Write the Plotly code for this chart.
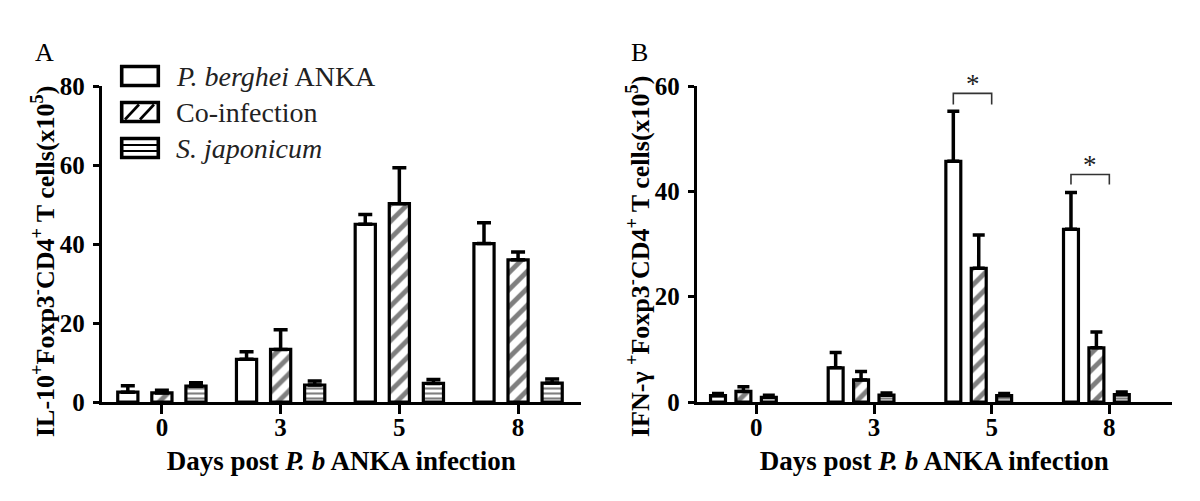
import plotly.graph_objects as go

# ---------------- data ----------------
days = ["0", "3", "5", "8"]
group_names = ["<i>P. berghei</i> ANKA", "Co-infection", "<i>S. japonicum</i>"]

# Panel A: IL-10+ Foxp3- CD4+ T cells (x10^5), mean and SEM (upper only)
il10_pb = [2.5, 10.8, 45.0, 40.1]
il10_pb_err = [1.6, 1.9, 2.5, 5.3]
il10_co = [2.3, 13.3, 50.2, 36.0]
il10_co_err = [0.7, 5.0, 9.1, 2.0]
il10_sj = [4.0, 4.3, 4.7, 4.8]
il10_sj_err = [0.9, 1.0, 1.0, 1.0]

# Panel B: IFN-gamma+ Foxp3- CD4+ T cells (x10^5)
ifng_pb = [1.2, 6.5, 45.7, 32.8]
ifng_pb_err = [0.4, 2.9, 9.5, 7.0]
ifng_co = [2.0, 4.2, 25.4, 10.3]
ifng_co_err = [0.9, 1.6, 6.3, 3.0]
ifng_sj = [0.9, 1.3, 1.2, 1.4]
ifng_sj_err = [0.4, 0.4, 0.4, 0.5]

# significance brackets in panel B (day, bracket top, leg bottom)
sig_days = ["5", "8"]
sig_top = [58.6, 43.2]
sig_leg = [56.5, 41.3]
sig_text = ["*", "*"]

ytick_a = [0, 20, 40, 60, 80]
ytick_b = [0, 20, 40, 60]

title_a = "IL-10<sup>+</sup>Foxp3<sup>-</sup>CD4<sup>+</sup> T cells(x10<sup>5</sup>)"
title_b = "IFN-γ <sup>+</sup>Foxp3<sup>-</sup>CD4<sup>+</sup> T cells(x10<sup>5</sup>)"
title_x = "Days post <i>P. b</i> ANKA infection"

# ---------------- style ----------------
FONT = "Liberation Serif"
xpos = list(range(len(days)))

# page offset of the figure (body margin) and plot area in page pixels
OFF = 8
PLOT_TOP, PLOT_BOT = 86, 402
W = 1200


def px(p):
    return (p - OFF) / W


def py(p):
    return (PLOT_BOT - p) / (PLOT_BOT - PLOT_TOP)


# bar geometry (category units)
A_W, A_PITCH, A_SHIFT = 0.17, 0.287, 0.0
B_W, B_PITCH, B_SHIFT = 0.127, 0.216, -0.11

patterns = [
    dict(shape="", fgcolor="black", bgcolor="white"),
    dict(shape="/", size=12, solidity=0.4, fgcolor="black", bgcolor="white"),
    dict(shape="-", size=5, solidity=0.42, fgcolor="black", bgcolor="white"),
]


def bar(vals, errs, k, w, pitch, shift, xa, ya, capw):
    center = shift + (k - 1) * pitch
    return go.Bar(
        x=xpos, y=vals, width=w, offset=center - w / 2,
        name=group_names[k], showlegend=False,
        marker=dict(color="white", line=dict(color="black", width=3.2),
                    pattern=patterns[k]),
        error_y=dict(type="data", symmetric=False, array=errs,
                     arrayminus=[0] * len(errs), color="black",
                     thickness=3.5, width=capw),
        xaxis=xa, yaxis=ya, hoverinfo="skip",
    )


fig = go.Figure()
for k, (v, e) in enumerate([(il10_pb, il10_pb_err), (il10_co, il10_co_err), (il10_sj, il10_sj_err)]):
    fig.add_trace(bar(v, e, k, A_W, A_PITCH, A_SHIFT, "x", "y", 7))
for k, (v, e) in enumerate([(ifng_pb, ifng_pb_err), (ifng_co, ifng_co_err), (ifng_sj, ifng_sj_err)]):
    fig.add_trace(bar(v, e, k, B_W, B_PITCH, B_SHIFT, "x2", "y2", 6))

axis_common = dict(
    showline=True, linecolor="black", linewidth=3,
    ticks="outside", tickcolor="black", tickwidth=3,
    showgrid=False, zeroline=False, automargin=False,
    tickfont=dict(family=FONT, size=25, color="black", weight="bold"),
)
xtitle = dict(text=title_x,
              font=dict(family=FONT, size=27, color="black", weight="bold"),
              standoff=12)

fig.update_layout(
    width=1200, height=501,
    margin=dict(l=0, r=0, t=PLOT_TOP - OFF, b=501 - (PLOT_BOT - OFF)),
    plot_bgcolor="white", paper_bgcolor="white",
    barmode="overlay", showlegend=False,
    font=dict(family=FONT, color="black"),
    xaxis=dict(domain=[px(101.7), px(581)], anchor="y", range=[-0.507, 3.53],
               tickvals=xpos, ticktext=days, ticklen=9, ticklabelstandoff=-8,
               title=xtitle, **axis_common),
    yaxis=dict(domain=[0, 1], anchor="x", range=[0, 80], tickvals=ytick_a, ticklen=6,
               ticklabelstandoff=3, **axis_common),
    xaxis2=dict(domain=[px(696.7), px(1171.7)], anchor="y2", range=[-0.507, 3.53],
                tickvals=xpos, ticktext=days, ticklen=9, ticklabelstandoff=-8,
                title=xtitle, **axis_common),
    yaxis2=dict(domain=[0, 1], anchor="x2", range=[0, 60], tickvals=ytick_b, ticklen=6,
                ticklabelstandoff=3, **axis_common),
)

# y-axis titles (rotated text)
for xc, yc, txt in [(43, 262, title_a), (638, 257, title_b)]:
    fig.add_annotation(xref="paper", yref="paper", x=px(xc), y=py(yc),
                       xanchor="center", yanchor="middle", textangle=-90,
                       showarrow=False, text=txt,
                       font=dict(family=FONT, size=26, color="black", weight="bold"))

# ---------------- custom legend (panel A) ----------------
row_centers = [76, 112, 148]
bx0, bx1, bh = 121.7, 158.3, 9.5
for i, rc in enumerate(row_centers):
    fig.add_shape(type="rect", xref="paper", yref="paper",
                  x0=px(bx0), x1=px(bx1), y0=py(rc + bh), y1=py(rc - bh),
                  line=dict(color="black", width=3.6), fillcolor="white")
    fig.add_annotation(xref="paper", yref="paper", x=px(174), y=py(rc),
                       xanchor="left", yanchor="middle", showarrow=False,
                       text=group_names[i],
                       font=dict(family=FONT, size=28, color="#222"))
# hatch marks inside legend boxes
for xb, xt in [(125, 139), (140, 154)]:
    fig.add_shape(type="line", xref="paper", yref="paper",
                  x0=px(xb), x1=px(xt), y0=py(row_centers[1] + bh - 2), y1=py(row_centers[1] - bh + 2),
                  line=dict(color="black", width=2.6))
for dy in (-3, 3):
    fig.add_shape(type="line", xref="paper", yref="paper",
                  x0=px(bx0), x1=px(bx1), y0=py(row_centers[2] + dy), y1=py(row_centers[2] + dy),
                  line=dict(color="black", width=1.8))

# ---------------- significance brackets (panel B) ----------------
pb_center_b = B_SHIFT - B_PITCH
for d, top, leg, t in zip(sig_days, sig_top, sig_leg, sig_text):
    xi = days.index(d)
    xl, xr = xi + pb_center_b, xi
    fig.add_shape(type="path", xref="x2", yref="y2",
                  path=f"M {xl},{leg} L {xl},{top} L {xr},{top} L {xr},{leg}",
                  line=dict(color="#333", width=1.6))
    fig.add_annotation(xref="x2", yref="y2", x=(xl + xr) / 2, y=top,
                       yanchor="bottom", showarrow=False, text=t, yshift=-8,
                       font=dict(family=FONT, size=27, color="#222"))

# panel letters
fig.add_annotation(xref="paper", yref="paper", x=px(33), y=py(36), showarrow=False,
                   text="A", font=dict(family=FONT, size=26, color="black"))
fig.add_annotation(xref="paper", yref="paper", x=px(639), y=py(36), showarrow=False,
                   text="B", font=dict(family=FONT, size=26, color="black"))

fig.write_html("out.html")
